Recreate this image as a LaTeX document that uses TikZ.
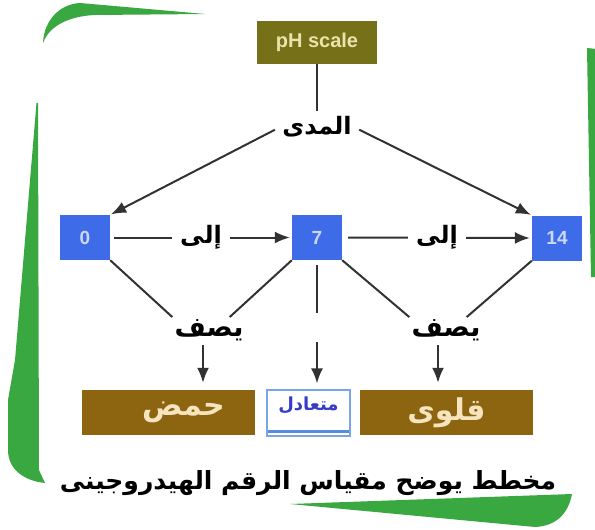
\documentclass[tikz,border=0pt]{standalone}
\usepackage{fontspec}
\setmainfont{Liberation Sans}
\newfontfamily\arabicfont[Script=Arabic]{DejaVu Sans}
\TeXXeTstate=1
\usetikzlibrary{arrows.meta}
\definecolor{frameGreen}{RGB}{58,168,64}
\definecolor{phOlive}{RGB}{118,112,24}
\definecolor{phText}{RGB}{232,228,170}
\definecolor{numBlue}{RGB}{62,108,232}
\definecolor{numText}{RGB}{205,215,250}
\definecolor{boxBrown}{RGB}{141,100,16}
\definecolor{creamText}{RGB}{245,228,190}
\definecolor{lineGray}{RGB}{50,50,50}
\definecolor{neutralBorder}{RGB}{120,165,230}
\definecolor{neutralStripe}{RGB}{85,140,220}
\definecolor{neutralText}{RGB}{55,60,200}
\begin{document}
\begin{tikzpicture}[x=1pt,y=-1pt,
  conn/.style={draw=lineGray, line width=2pt},
  arr/.style={conn, -{Latex[length=15pt,width=12pt]}},
  numbox/.style={fill=numBlue, minimum width=50pt, minimum height=45pt, inner sep=0pt,
    text=numText, font=\bfseries\fontsize{19}{19}\selectfont},
  brownbox/.style={fill=boxBrown, minimum width=173pt, minimum height=45pt, inner sep=0pt,
    text=creamText, font=\arabicfont\bfseries\fontsize{30}{30}\selectfont},
  lbl/.style={font=\arabicfont\bfseries\fontsize{24}{24}\selectfont, inner sep=2pt},
  frame/.style={fill=frameGreen},
]
\useasboundingbox (0,0) rectangle (595,530);
\fill[white] (0,0) rectangle (595,530);
% green frame pieces
\fill[frame] (43,43) .. controls (44,20) and (60,4) .. (80,3) -- (205,14)
  -- (95,15) .. controls (72,16) and (50,24) .. (43,43) -- cycle;
\fill[frame] (36.5,103) -- (15,360) -- (8,400) -- (8,450)
  .. controls (8,470) and (25,481) .. (45,483) -- (39,470) -- (38,103) -- cycle;
\fill[frame] (587,48) -- (596,49) -- (596,277) -- (591,277) -- cycle;
\fill[frame] (290,504) -- (572,494) .. controls (568,515) and (555,526) .. (535,527) -- cycle;

% nodes
\node[fill=phOlive, minimum width=120pt, minimum height=43pt, inner sep=0pt,
  text=phText, font=\bfseries\fontsize{20}{20}\selectfont] (ph) at (317,42) {pH scale};
\node[lbl] (mada) at (317,127) {\beginR المدى\endR};
\node[numbox] (b0) at (85,237.5) {0};
\node[numbox] (b7) at (317,237.5) {7};
\node[numbox] (b14) at (557,238) {14};
\node[lbl, font=\arabicfont\bfseries\fontsize{27}{27}\selectfont] (yasif1) at (209,330) {\beginR يصف\endR};
\node[lbl, font=\arabicfont\bfseries\fontsize{27}{27}\selectfont] (yasif2) at (446,330) {\beginR يصف\endR};
\node[brownbox] (hamd) at (168.5,412.5) {\hspace{30pt}\beginR حمض\endR};
\node[brownbox] (qalawi) at (446.5,412.5) {\beginR قلوى\endR};
\node[draw=neutralBorder, line width=1.2pt, fill=white, minimum width=83pt,
  minimum height=46pt, inner sep=0pt,
  path picture={\fill[neutralStripe] ([yshift=3pt]path picture bounding box.south west)
    rectangle ([yshift=6pt]path picture bounding box.south east);}] (neutral) at (308.5,413) {};
\node[font=\arabicfont\bfseries\fontsize{18}{18}\selectfont, text=neutralText]
  (neutralT) at (308.5,405) {\beginR متعادل\endR};
\node[font=\arabicfont\bfseries\fontsize{25}{25}\selectfont] (cap) at (308,483)
  {\beginR مخطط يوضح مقياس الرقم الهيدروجينى\endR};

\coordinate (gapTop) at (317,313);
\coordinate (gapBot) at (317,342);

% connectors
\draw[conn] (ph.south) -- ([yshift=3pt]mada.north);
\draw[arr, shorten <=6pt, shorten >=1pt] (mada.west) -- (b0.north east);
\draw[arr, shorten <=6pt, shorten >=1pt] (mada.east) -- (b14.north west);
\draw[arr, shorten <=4pt, shorten >=2pt] (b0.east) --
  node[lbl, fill=white, inner xsep=8pt] (ila1) {\beginR إلى\endR} (b7.west);
\draw[arr, shorten <=6pt, shorten >=2pt] (b7.east) --
  node[lbl, fill=white, inner xsep=8pt] (ila2) {\beginR إلى\endR} (b14.west);
\draw[conn] (b0.south east) -- (yasif1.north west);
\draw[conn] (b7.south west) -- ([xshift=-16pt]yasif1.north east);
\draw[conn] (b7.south east) -- (yasif2.north west);
\draw[conn] (b14.south west) -- ([xshift=-16pt]yasif2.north east);
\draw[conn, shorten <=5pt] (b7.south) -- (gapTop);
\draw[arr, shorten >=6pt] (gapBot) -- (gapBot |- neutral.north);
\draw[arr, shorten <=2pt, shorten >=7pt] ([xshift=-6pt]yasif1.south) -- ([xshift=-6pt]yasif1.south |- hamd.north);
\draw[arr, shorten <=2pt, shorten >=7pt] ([xshift=-8pt]yasif2.south) -- ([xshift=-8pt]yasif2.south |- qalawi.north);
\end{tikzpicture}
\end{document}
